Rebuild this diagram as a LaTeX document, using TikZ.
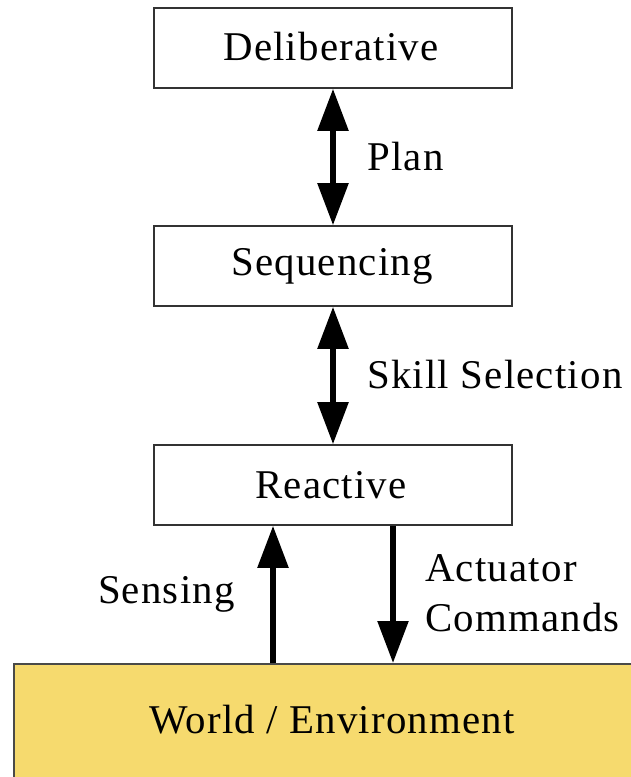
\documentclass[tikz,border=0pt]{standalone}
\usepackage{fontspec}
\setmainfont{Liberation Serif}[LetterSpace=3]
\usetikzlibrary{arrows.meta}
\definecolor{boxline}{HTML}{333333}
\definecolor{worldfill}{HTML}{F6DA6E}
\definecolor{worldline}{HTML}{4A4A48}
\begin{document}
\begin{tikzpicture}[x=1bp,y=-1bp,
  layer/.style={draw=boxline,line width=1.6bp,fill=white,minimum width=358bp,minimum height=80bp,inner sep=0pt},
  lbl/.style={font=\fontsize{41}{48}\selectfont,inner sep=0pt},
  dbl/.style={line width=5.5bp,{Triangle[length=42bp,width=30bp]}-{Triangle[length=42bp,width=30bp]}},
  arr/.style={line width=5.5bp,-{Triangle[length=42bp,width=30bp]}}]
\useasboundingbox (0,0) rectangle (631,777);
\clip (0,0) rectangle (631,777);
\node[layer] (delib) at (333,48) {};
\node[lbl] at (331,47) {Deliberative};
\node[layer] (seq) at (333,266) {};
\node[lbl] at (332,266) {Sequencing};
\node[layer] (react) at (333,485) {};
\node[lbl] at (331,485) {Reactive};
\node[draw=worldline,line width=2bp,fill=worldfill,minimum width=640bp,minimum height=140bp,inner sep=0pt] (world) at (334,734) {};
\node[lbl] (worldtext) at (332,720) {World / Environment};
\draw[dbl] (delib.south) -- (seq.north);
\node[lbl,anchor=west] (plan) at (367,157) {Plan};
\draw[dbl] (seq.south) -- (react.north);
\node[lbl,anchor=west] (skill) at (367,375) {Skill Selection};
\coordinate (sx) at (273,0);
\coordinate (ax) at (393,0);
\draw[arr] (sx |- world.north) -- (sx |- react.south);
\draw[arr] (ax |- react.south) -- (ax |- world.north);
\node[lbl,anchor=east] (sensing) at (235,594) {Sensing};
\node[lbl,anchor=west,align=left,font=\fontsize{41}{50}\selectfont] (act) at (425,593) {Actuator\\Commands};
\end{tikzpicture}
\end{document}
